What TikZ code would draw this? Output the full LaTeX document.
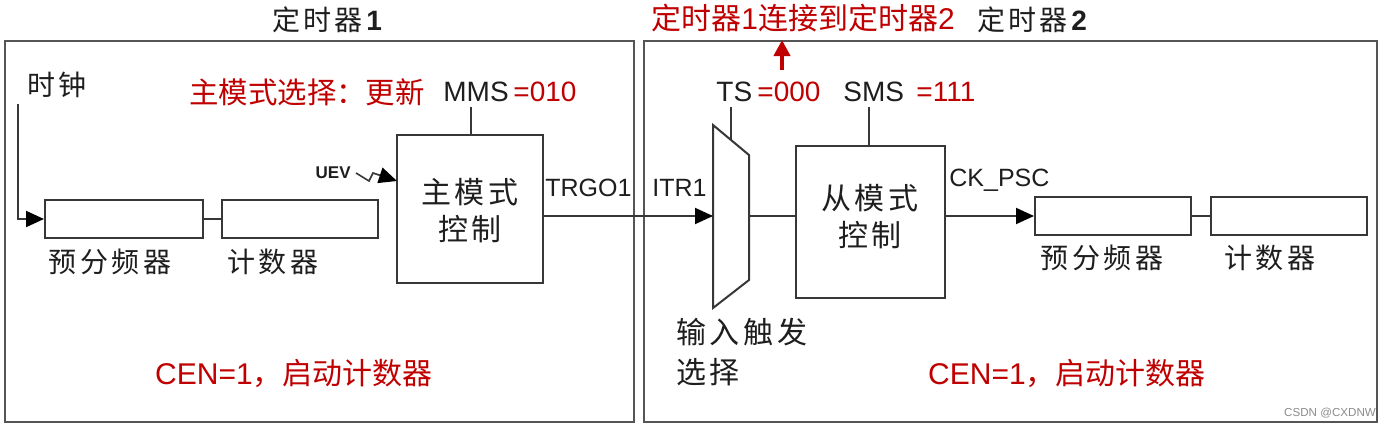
\documentclass[tikz,border=0pt]{standalone}
\usepackage{fontspec}
\setmainfont{Liberation Sans}
\newfontfamily\cjk{Noto Sans CJK SC}
\newfontfamily\cjks[LetterSpace=12]{Noto Sans CJK SC}
\usetikzlibrary{arrows.meta,fit}
\definecolor{dred}{RGB}{192,0,0}
\definecolor{ln}{RGB}{55,55,55}
\definecolor{txt}{RGB}{30,30,30}
\begin{document}
\begin{tikzpicture}[x=0.5pt,y=-0.5pt,
  frame/.style={draw=ln!85, line width=1.3pt, inner sep=0pt},
  box/.style={draw=ln, line width=1pt, inner sep=0pt},
  wire/.style={draw=ln, line width=1pt},
  arr/.style={wire, -{Triangle[length=9pt,width=8pt,color=black]}},
  blk/.style={text=txt, inner sep=0pt, font=\fontsize{14}{17}\selectfont\cjks},
  rtx/.style={text=dred, inner sep=0pt, font=\fontsize{14.7}{17}\selectfont\cjk},
  lat/.style={text=txt, inner sep=0pt, font=\fontsize{14}{17}\selectfont},
  rlat/.style={text=dred, inner sep=0pt, font=\fontsize{14}{17}\selectfont},
  sig/.style={text=txt, inner sep=0pt, font=\fontsize{12.5}{15}\selectfont}]
\useasboundingbox (0,0) rectangle (1384,428);
\fill[white] (0,0) rectangle (1384,428);

% frames
\node[frame, fit={(5,41) (634,422)}] (t1) {};
\node[frame, fit={(644,41) (1377,422)}] (t2) {};

% titles
\node[blk] (t1title) at (327,20) {定时器\textbf{\fontspec{Liberation Sans}1}};
\node[blk] (t2title) at (1032,20) {定时器\textbf{\fontspec{Liberation Sans}2}};
\node[rtx, font=\fontsize{15}{18}\selectfont\cjk] (link) at (803,18) {定时器{\fontspec{Liberation Sans}1}连接到定时器{\fontspec{Liberation Sans}2}};
\coordinate (rarrs) at (782,70);
\coordinate (rarre) at (782,40);
\draw[draw=dred, line width=2pt, -{Triangle[length=8pt,width=8pt]}] (rarrs) -- (rarre);

% timer 1
\node[blk] (clk) at (57,85) {时钟};
\coordinate (clkstart) at (18,104);
\node[box, fit={(45,200) (203,238)}] (psc1) {};
\node[box, fit={(222,200) (378,238)}] (cnt1) {};
\node[blk] (psc1l) at (110,262) {预分频器};
\node[blk] (cnt1l) at (273,262) {计数器};
\draw[arr] (clkstart) |- (psc1.west);
\draw[wire] (psc1.east) -- (cnt1.west);

\node[box, fit={(397,135) (543,283)}] (master) {};
\node[blk, align=center, font=\fontsize{15}{18.5}\selectfont\cjks] (mastert) at (470,211) {主模式\\控制};
\node[rtx] (mmsel) at (307,92) {主模式选择：更新};
\node[lat, anchor=west] (mms) at (443,92) {MMS};
\node[rlat, anchor=west] (mmsv) at (513,92) {=010};
\coordinate (mmstop) at (471,107);
\draw[wire] (mmstop) -- (mmstop |- master.north);

\node[text=txt, inner sep=0pt, font=\fontsize{8.5}{10}\selectfont\bfseries, anchor=east] (uev) at (351,173) {UEV};
\coordinate (uevtip) at (397,181);
\draw[wire, line width=0.8pt, -{Triangle[length=9pt,width=8pt,color=black]}] (uev.east) ++(5,0) -- (369,181) -- (373,173) -- (uevtip);

\node[sig, anchor=west] (trgo) at (545,188) {TRGO1};
\node[sig, anchor=west] (itr) at (652,188) {ITR1};

% timer 2 : mux
\coordinate (m1) at (713,125);
\coordinate (m2) at (749,155);
\coordinate (m3) at (749,280);
\coordinate (m4) at (713,308);
\draw[wire] (m1) -- (m2) -- (m3) -- (m4) -- cycle;
\coordinate (muxin) at (713,216);
\coordinate (muxout) at (749,216);
\coordinate (muxts) at (731,140);
\draw[arr] (master.east |- muxin) -- (muxin);

\node[lat, anchor=west] (ts) at (716,92) {TS};
\node[rlat, anchor=west] (tsv) at (757,92) {=000};
\coordinate (tstop) at (731,107);
\draw[wire] (tstop) -- (muxts);

\node[box, fit={(796,146) (945,298)}] (slave) {};
\node[blk, align=center, font=\fontsize{15}{18.5}\selectfont\cjks] (slavet) at (870,217) {从模式\\控制};
\node[lat, anchor=west] (sms) at (843,92) {SMS};
\node[rlat, anchor=west] (smsv) at (916,92) {=111};
\coordinate (smstop) at (869,107);
\draw[wire] (smstop) -- (smstop |- slave.north);
\draw[wire] (muxout) -- (slave.west |- muxout);

\node[blk, anchor=north west, align=left, font=\fontsize{15}{20}\selectfont\cjks] (trigsel) at (676,318) {输入触发\\选择};

\node[sig, anchor=west] (ckpsc) at (949,180) {CK\_PSC};
\node[box, fit={(1035,197) (1191,235)}] (psc2) {};
\node[box, fit={(1211,197) (1367,235)}] (cnt2) {};
\node[blk] (psc2l) at (1102,258) {预分频器};
\node[blk] (cnt2l) at (1270,258) {计数器};
\draw[arr] (slave.east |- psc2.west) -- (psc2.west);
\draw[wire] (psc2.east) -- (cnt2.west);

% CEN notes
\node[rtx, font=\fontsize{15}{18}\selectfont] (cen1) at (294,373) {CEN=1{\cjk ，启动计数器}};
\node[rtx, font=\fontsize{15}{18}\selectfont] (cen2) at (1067,373) {CEN=1{\cjk ，启动计数器}};

\node[text=black!45, inner sep=0pt, font=\fontsize{5.8}{7}\selectfont] (wm) at (1330,413) {CSDN @CXDNW};
\end{tikzpicture}
\end{document}
